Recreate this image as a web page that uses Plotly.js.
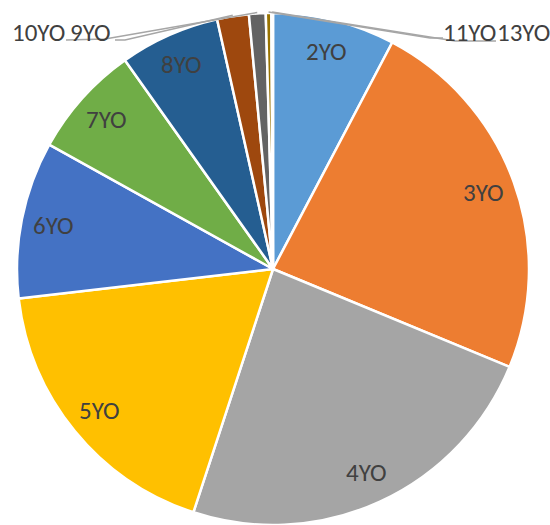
<!DOCTYPE html>
<html>
<head>
<meta charset="utf-8">
<script src="https://cdn.plot.ly/plotly-3.0.1.min.js"></script>
<style>html,body{margin:0;padding:0;background:#fff;}#chart{width:550px;height:525px;}</style>
</head>
<body>
<div id="chart"></div>
<script>
// Data
const labels = ['2YO','3YO','4YO','5YO','6YO','7YO','8YO','9YO','10YO','11YO','13YO'];
const values = [7.7, 23.5, 23.75, 18.1, 9.9, 7.1, 6.3, 2.0, 1.05, 0.35, 0.1];
const colors = ['#5B9BD5','#ED7D31','#A5A5A5','#FFC000','#4472C4','#70AD47','#255E91','#9E480E','#636363','#997300','#264478'];
const outsideLabels = ['9YO','10YO','11YO','13YO'];

// Layout geometry (pixels)
const W = 550, H = 525;
const CX = 273, CY = 269, R = 256;
const px2x = p => p / W;
const py2y = p => 1 - p / H;

const total = values.reduce((a, b) => a + b, 0);
const midAngles = [];
let cum = 0;
values.forEach(v => {
  const a0 = cum / total * 2 * Math.PI;
  cum += v;
  const a1 = cum / total * 2 * Math.PI;
  midAngles.push((a0 + a1) / 2);
});

const font = {family: 'Carlito, Calibri, Lato, sans-serif', size: 25, color: '#404040'};
const annotations = [];
const shapes = [];

// placement of outside labels and leader elbows (pixels)
const outsidePlacement = {
  '10YO': {tx: 38, ty: 33, path: [[105, 39], [66, 40]]},
  '9YO':  {tx: 90, ty: 33, path: [[125, 40], [115, 40]]},
  '11YO': {tx: 469, ty: 33, path: [[430, 38], [443, 38]]},
  '13YO': {tx: 523, ty: 33, path: [[455, 41], [496, 41]]}
};

labels.forEach((lab, i) => {
  const a = midAngles[i];
  if (outsideLabels.indexOf(lab) === -1) {
    const rr = 0.875 * R;
    const x = CX + rr * Math.sin(a);
    const y = CY - rr * Math.cos(a);
    annotations.push({x: px2x(x), y: py2y(y), xref: 'paper', yref: 'paper', text: lab,
      showarrow: false, font: font, xanchor: 'center', yanchor: 'middle'});
  } else {
    const p = outsidePlacement[lab];
    annotations.push({x: px2x(p.tx), y: py2y(p.ty), xref: 'paper', yref: 'paper', text: lab,
      showarrow: false, font: font, xanchor: 'center', yanchor: 'middle'});
    const sx = CX + (R + 1) * Math.sin(a);
    const sy = CY - (R + 1) * Math.cos(a);
    const pts = [[sx, sy]].concat(p.path);
    const d = pts.map((q, k) => (k === 0 ? 'M' : 'L') + px2x(q[0]).toFixed(5) + ',' + py2y(q[1]).toFixed(5)).join(' ');
    shapes.push({type: 'path', xref: 'paper', yref: 'paper', path: d,
      line: {color: '#A6A6A6', width: 1.5}});
  }
});

const trace = {
  type: 'pie',
  labels: labels,
  values: values,
  sort: false,
  direction: 'clockwise',
  rotation: 0,
  marker: {colors: colors, line: {color: '#FFFFFF', width: 2.5}},
  textinfo: 'none',
  hoverinfo: 'label+value',
  domain: {x: [17 / W, 529 / W], y: [0, 1 - 13 / H]}
};

const layout = {
  width: W, height: H,
  margin: {l: 0, r: 0, t: 0, b: 0, pad: 0, autoexpand: false},
  showlegend: false,
  paper_bgcolor: '#FFFFFF',
  annotations: annotations,
  shapes: shapes
};

Plotly.newPlot('chart', [trace], layout, {displayModeBar: false, staticPlot: true});
</script>
</body>
</html>
